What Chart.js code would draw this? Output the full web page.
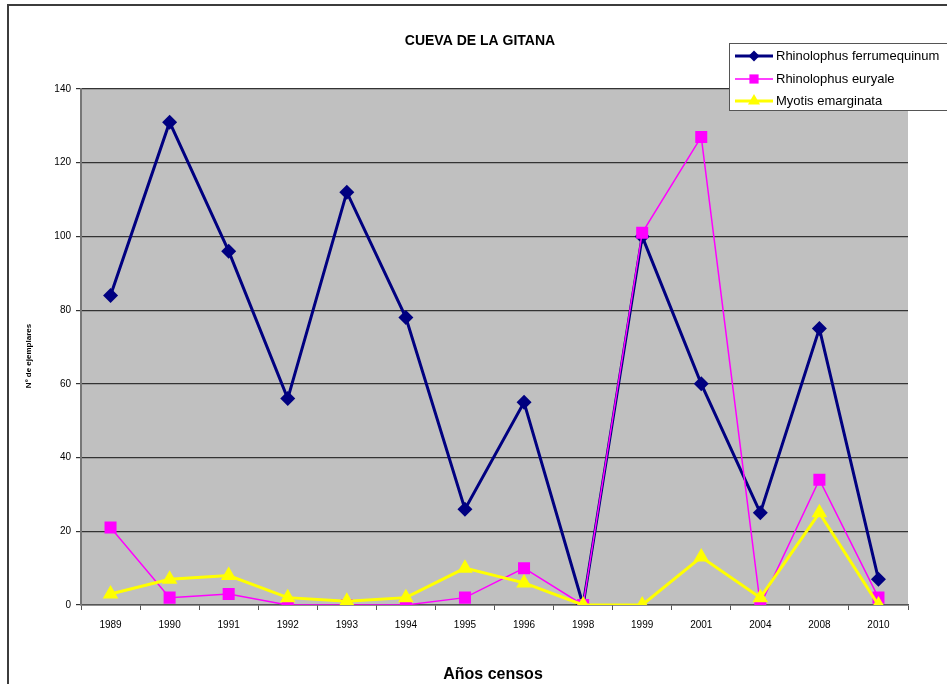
<!DOCTYPE html>
<html lang="es">
<head>
    <meta charset="UTF-8">
    <title>Cueva de la Gitana</title>
    <script src="https://cdn.jsdelivr.net/npm/chart.js@4.4.0/dist/chart.umd.min.js"></script>
    <style>
        * {
            margin: 0;
            padding: 0;
            box-sizing: border-box;
        }

        body {
            background-color: #ffffff;
            width: 947px;
            height: 684px;
            overflow: hidden;
        }

        .chart-container {
            position: relative;
            width: 947px;
            height: 684px;
        }
    </style>
</head>
<body>
    <div class="chart-container">
        <canvas id="censoChart"></canvas>
    </div>

    <script>
        // Datos del censo
        const years = ['1989', '1990', '1991', '1992', '1993', '1994', '1995',
                       '1996', '1998', '1999', '2001', '2004', '2008', '2010'];
        const ferrumequinum = [84, 131, 96, 56, 112, 78, 26, 55, 0, 100, 60, 25, 75, 7];
        const euryale = [21, 2, 3, 0, 0, 0, 2, 10, 0, 101, 127, 0, 34, 2];
        const emarginata = [3, 7, 8, 2, 1, 2, 10, 6, 0, 0, 13, 2, 25, 0];
        const yTicks = [0, 20, 40, 60, 80, 100, 120, 140];

        const FONT = "'Liberation Sans', Arial, sans-serif";

        // Fondo gris, marco exterior, títulos y leyenda
        const decorPlugin = {
            id: 'decor',
            beforeDraw(chart) {
                const { ctx, chartArea } = chart;
                ctx.save();
                ctx.fillStyle = '#c0c0c0';
                ctx.fillRect(chartArea.left, chartArea.top,
                             chartArea.right - chartArea.left,
                             chartArea.bottom - chartArea.top);
                ctx.strokeStyle = '#3c3c3c';
                ctx.lineWidth = 2;
                ctx.beginPath();
                ctx.moveTo(8, 700);
                ctx.lineTo(8, 5);
                ctx.lineTo(960, 5);
                ctx.stroke();
                ctx.restore();
            },
            afterDraw(chart) {
                const { ctx } = chart;
                ctx.save();

                ctx.fillStyle = '#000';
                ctx.textAlign = 'center';
                ctx.textBaseline = 'middle';
                ctx.font = 'bold 14px ' + FONT;
                ctx.fillText('CUEVA DE LA GITANA', 480, 41);

                ctx.font = 'bold 16px ' + FONT;
                ctx.fillText('Años censos', 493, 675);

                ctx.translate(29, 356);
                ctx.rotate(-Math.PI / 2);
                ctx.font = 'bold 8px ' + FONT;
                ctx.fillText('Nº de ejemplares', 0, 0);
                ctx.restore();

                // leyenda
                ctx.save();
                ctx.fillStyle = '#ffffff';
                ctx.fillRect(729, 43, 230, 68);
                ctx.strokeStyle = '#555';
                ctx.lineWidth = 1;
                ctx.strokeRect(729.5, 43.5, 230, 67);
                const rowsY = [56, 79, 101];
                chart.data.datasets.forEach((ds, i) => {
                    const y = rowsY[i];
                    ctx.strokeStyle = ds.borderColor;
                    ctx.lineWidth = ds.borderWidth;
                    ctx.beginPath();
                    ctx.moveTo(735, y);
                    ctx.lineTo(773, y);
                    ctx.stroke();
                    ctx.fillStyle = ds.pointBackgroundColor;
                    Chart.helpers.drawPoint(ctx, {
                        pointStyle: ds.pointStyle,
                        radius: ds.pointRadius - 2,
                        rotation: 0,
                        borderWidth: 0
                    }, 754, y);
                    ctx.fillStyle = '#000';
                    ctx.textAlign = 'left';
                    ctx.textBaseline = 'middle';
                    ctx.font = '13px ' + FONT;
                    ctx.fillText(ds.label, 776, y);
                });
                ctx.restore();
            }
        };

        new Chart(document.getElementById('censoChart').getContext('2d'), {
            type: 'line',
            data: {
                labels: years,
                datasets: [
                    {
                        label: 'Rhinolophus ferrumequinum',
                        data: ferrumequinum,
                        order: 3,
                        borderColor: '#000080',
                        backgroundColor: '#000080',
                        pointBackgroundColor: '#000080',
                        pointBorderColor: '#000080',
                        borderWidth: 3,
                        pointStyle: 'rectRot',
                        pointRadius: 7.5,
                        pointBorderWidth: 0,
                        tension: 0
                    },
                    {
                        label: 'Rhinolophus euryale',
                        data: euryale,
                        order: 2,
                        borderColor: '#ff00ff',
                        backgroundColor: '#ff00ff',
                        pointBackgroundColor: '#ff00ff',
                        pointBorderColor: '#ff00ff',
                        borderWidth: 1.5,
                        pointStyle: 'rect',
                        pointRadius: 8.5,
                        pointBorderWidth: 0,
                        tension: 0
                    },
                    {
                        label: 'Myotis emarginata',
                        data: emarginata,
                        order: 1,
                        borderColor: '#ffff00',
                        backgroundColor: '#ffff00',
                        pointBackgroundColor: '#ffff00',
                        pointBorderColor: '#ffff00',
                        borderWidth: 3,
                        pointStyle: 'triangle',
                        pointRadius: 9,
                        pointBorderWidth: 0,
                        tension: 0
                    }
                ]
            },
            options: {
                responsive: true,
                maintainAspectRatio: false,
                animation: false,
                layout: {
                    padding: { top: 89, right: 39, bottom: 0, left: 0 }
                },
                plugins: {
                    legend: { display: false },
                    title: { display: false },
                    tooltip: { enabled: false }
                },
                scales: {
                    x: {
                        offset: true,
                        grid: {
                            offset: true,
                            drawOnChartArea: false,
                            drawTicks: true,
                            tickLength: 5,
                            color: '#555'
                        },
                        border: { color: '#555', width: 1.5 },
                        ticks: {
                            color: '#000',
                            font: { family: FONT, size: 10 },
                            padding: 9,
                            maxRotation: 0,
                            autoSkip: false
                        },
                        afterFit(scale) { scale.height = 79; }
                    },
                    y: {
                        min: 0,
                        max: 140,
                        grid: {
                            color: '#333',
                            lineWidth: 1.2,
                            drawTicks: true,
                            tickLength: 5
                        },
                        border: { color: '#777', width: 2 },
                        afterBuildTicks(scale) {
                            scale.ticks = yTicks.map(v => ({ value: v }));
                        },
                        ticks: {
                            color: '#000',
                            font: { family: FONT, size: 10 },
                            padding: 5
                        },
                        afterFit(scale) { scale.width = 81; }
                    }
                }
            },
            plugins: [decorPlugin]
        });
    </script>
</body>
</html>
